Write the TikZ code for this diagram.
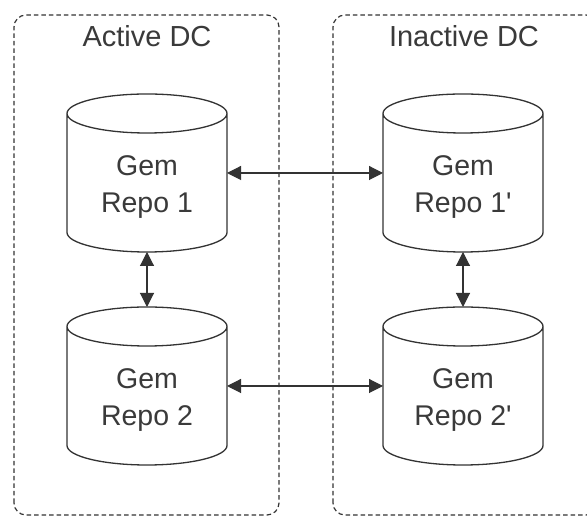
\documentclass[tikz,border=0pt]{standalone}
\usepackage{fontspec}
\newfontfamily\libsans{Liberation Sans}
\usetikzlibrary{arrows.meta}
\definecolor{ink}{HTML}{333333}
\definecolor{txt}{HTML}{3A3A3A}
\tikzset{
  dcbox/.style={draw=ink, line width=1.2pt, dash pattern=on 4.5pt off 3pt, rounded corners=12pt},
  cylbox/.style={minimum width=160pt, minimum height=158pt, inner sep=0pt, outer sep=0pt},
  cylline/.style={draw=ink, line width=1.3pt, fill=white},
  cyltext/.style={text=txt, align=center, inner sep=0pt, font=\libsans\fontsize{28.5}{37}\selectfont},
  dctitle/.style={text=txt, inner sep=0pt, anchor=base, font=\libsans\fontsize{29}{35}\selectfont},
  link/.style={draw=ink, line width=1.1pt, {Triangle[length=14pt,width=14pt]}-{Triangle[length=14pt,width=14pt]}}
}
\newcommand\drawcyl[1]{%
  \path[cylline] ([yshift=-19.5pt]#1.north west) -- ([yshift=19.5pt]#1.south west)
    arc[start angle=180,end angle=360,x radius=80pt,y radius=19.5pt]
    -- ([yshift=-19.5pt]#1.north east)
    arc[start angle=0,end angle=360,x radius=80pt,y radius=19.5pt];}
\begin{document}
\begin{tikzpicture}[x=1pt,y=1pt]
\useasboundingbox (0,0) rectangle (587,516);
\clip (0,0) rectangle (587,516);
\fill[white] (0,0) rectangle (587,516);
% data centre boxes
\draw[dcbox] (14,1) rectangle (279,501);
\draw[dcbox] (333,1) rectangle (598,501);
\node[dctitle] (tA) at (147,469) {Active DC};
\node[dctitle] (tI) at (464,469) {Inactive DC};
% cylinders
\node[cylbox] (c1) at (147,343) {};
\node[cylbox] (c2) at (147,130) {};
\node[cylbox] (c3) at (463,343) {};
\node[cylbox] (c4) at (463,130) {};
\drawcyl{c1}\drawcyl{c2}\drawcyl{c3}\drawcyl{c4}
\node[cyltext] (l1) at ([yshift=-13.6pt]c1.center) {Gem\\Repo 1};
\node[cyltext] (l2) at ([yshift=-13.6pt]c2.center) {Gem\\Repo 2};
\node[cyltext] (l3) at ([yshift=-13.6pt]c3.center) {Gem\\Repo 1'};
\node[cyltext] (l4) at ([yshift=-13.6pt]c4.center) {Gem\\Repo 2'};
% connectors
\draw[link] (c1.east) -- (c3.west);
\draw[link] (c2.east) -- (c4.west);
\draw[link] (c1.south) -- (c2.north);
\draw[link] (c3.south) -- (c4.north);
\end{tikzpicture}
\end{document}
